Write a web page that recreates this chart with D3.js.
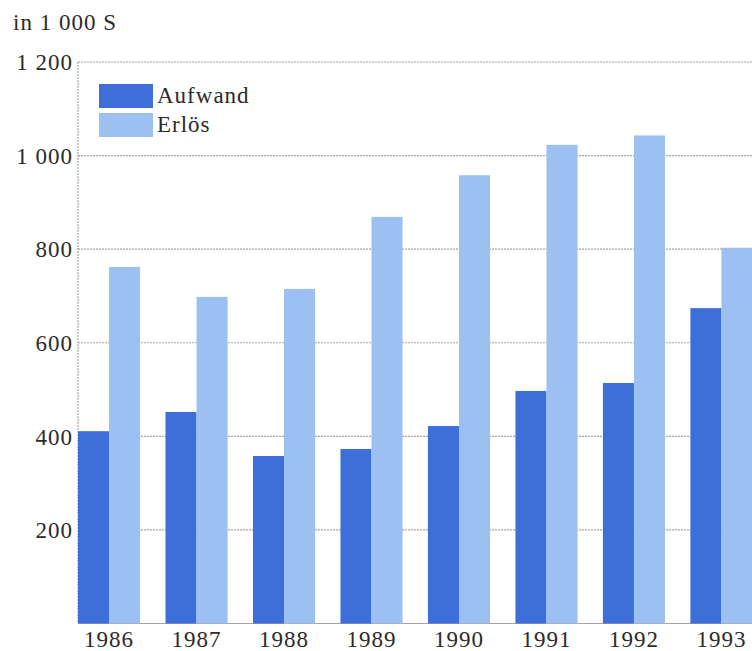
<!DOCTYPE html>
<html>
<head>
<meta charset="utf-8">
<script src="https://cdn.jsdelivr.net/npm/d3@7"></script>
<style>
  html, body { margin: 0; padding: 0; background: #fff; }
  svg { display: block; }
  text { font-family: "Liberation Serif", "Times New Roman", serif; fill: #2b2b2b; letter-spacing: 1px; }
</style>
</head>
<body>
<svg id="chart" width="752" height="651"></svg>
<script>
// Jahre, Werte in 1 000 S
const years = ["1986", "1987", "1988", "1989", "1990", "1991", "1992", "1993"];
const aufwand = [411, 452, 358, 373, 422, 497, 514, 674];
const erloes = [762, 698, 715, 869, 958, 1023, 1043, 803];
const seriesNames = ["Aufwand", "Erlös"];
const yTicks = [200, 400, 600, 800, 1000, 1200];
const unitLabel = "in 1 000 S";

const colors = { "Aufwand": "#3e6fd8", "Erlös": "#9cc0f1" };

const svg = d3.select("#chart");
const plotLeft = 78, plotRight = 752.5, plotTop = 62, plotBottom = 623.5;

const x = d3.scaleBand().domain(years).range([plotLeft, plotRight])
  .paddingInner(0.29).paddingOuter(0);
const xInner = d3.scaleBand().domain(seriesNames).range([0, x.bandwidth()]).padding(0);
const y = d3.scaleLinear().domain([0, 1200]).range([plotBottom, plotTop]);

const fmt = v => d3.format(",")(v).replace(/,/g, " ");

// Gitterlinien
svg.append("g").selectAll("line").data(yTicks).join("line")
  .attr("x1", plotLeft).attr("x2", 752)
  .attr("y1", d => y(d)).attr("y2", d => y(d))
  .attr("stroke", "#a9a4a4").attr("stroke-width", 1.2)
  .attr("stroke-dasharray", "2,1");

// Achsenlinien
svg.append("line").attr("x1", plotLeft).attr("x2", plotLeft).attr("y1", plotTop).attr("y2", plotBottom)
  .attr("stroke", "#a9a4a4").attr("stroke-width", 1.2).attr("stroke-dasharray", "2,1");
svg.append("line").attr("x1", plotLeft).attr("x2", 752).attr("y1", plotBottom).attr("y2", plotBottom)
  .attr("stroke", "#a9a4a4").attr("stroke-width", 1.2);

// Balken
const rows = years.map((yr, i) => ({ year: yr, values: [
  { key: "Aufwand", value: aufwand[i] },
  { key: "Erlös", value: erloes[i] }
]}));

svg.append("g").selectAll("g").data(rows).join("g")
  .attr("transform", d => `translate(${x(d.year)},0)`)
  .selectAll("rect").data(d => d.values).join("rect")
  .attr("x", d => xInner(d.key))
  .attr("width", xInner.bandwidth())
  .attr("y", d => y(d.value))
  .attr("height", d => y(0) - y(d.value))
  .attr("fill", d => colors[d.key]);

// y-Achse
const yAxis = d3.axisLeft(y).tickValues(yTicks).tickFormat(fmt).tickSize(0).tickPadding(5);
const gy = svg.append("g").attr("transform", `translate(${plotLeft},0)`).call(yAxis);
gy.select(".domain").remove();
gy.selectAll("text").style("font-size", "23px").attr("fill", "#2b2b2b")
  .style("font-family", "'Liberation Serif', serif").attr("dy", "0.34em");

// x-Achse
const xAxis = d3.axisBottom(x).tickSize(0).tickPadding(7);
const gx = svg.append("g").attr("transform", `translate(0,${plotBottom})`).call(xAxis);
gx.select(".domain").remove();
gx.selectAll("text").style("font-size", "23px").attr("fill", "#2b2b2b")
  .style("font-family", "'Liberation Serif', serif").attr("dy", "0.71em");

// Einheit
svg.append("text").attr("x", 13).attr("y", 30).style("font-size", "23px").text(unitLabel);

// Legende
const legend = svg.append("g");
seriesNames.forEach((name, i) => {
  const ly = 84 + i * 29;
  legend.append("rect").attr("x", 99).attr("y", ly).attr("width", 54).attr("height", 24)
    .attr("fill", colors[name]);
  legend.append("text").attr("x", 157).attr("y", ly + 19).style("font-size", "23px").text(name);
});
</script>
</body>
</html>
